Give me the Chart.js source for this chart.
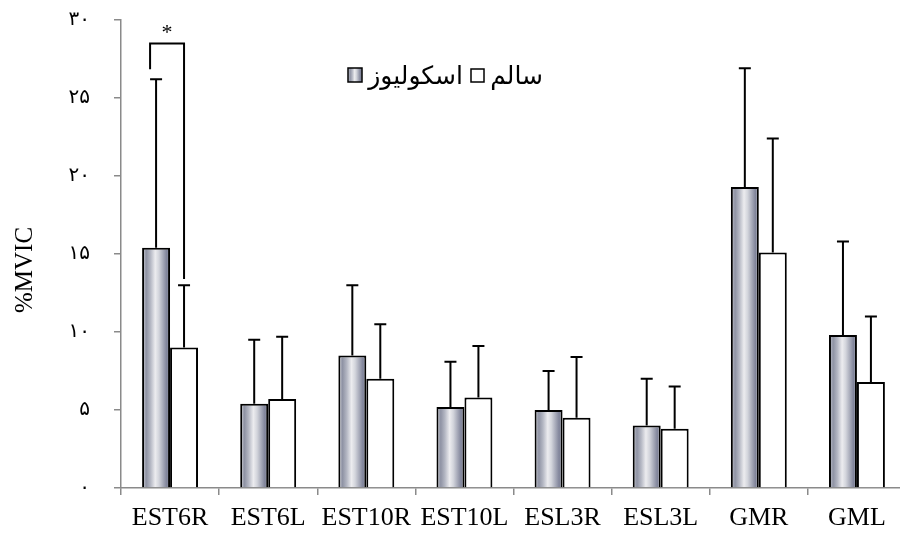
<!DOCTYPE html>
<html>
<head>
<meta charset="utf-8">
<script src="https://cdn.jsdelivr.net/npm/chart.js@4.4.1/dist/chart.umd.min.js"></script>
<style>
  html, body { margin: 0; padding: 0; background: #fff; overflow: hidden; }
  #wrap { width: 912px; height: 533px; position: relative; }
</style>
</head>
<body>
<div id="wrap"><canvas id="c"></canvas></div>
<script>
const categories = ['EST6R', 'EST6L', 'EST10R', 'EST10L', 'ESL3R', 'ESL3L', 'GMR', 'GML'];
const seriesNames = ['اسکولیوز', 'سالم'];
const scoliosisMean = [15.4, 5.4, 8.5, 5.2, 5.0, 4.0, 19.3, 9.8];
const scoliosisSD   = [10.8, 4.1, 4.5, 2.9, 2.5, 3.0, 7.6, 6.0];
const healthyMean   = [9.0, 5.7, 7.0, 5.8, 4.5, 3.8, 15.1, 6.8];
const healthySD     = [4.0, 4.0, 3.5, 3.3, 3.9, 2.7, 7.3, 4.2];
const yTickLabels = ['۰', '۵', '۱۰', '۱۵', '۲۰', '۲۵', '۳۰'];
const yAxisTitle = '%MVIC';
const sigIndex = 0;
const sigTop = 28.5;
const sigLeftEnd = 26.85;
const sigRightEnd = 13.4;
const sigLabel = '*';

const SERIF = '"Liberation Serif", "Times New Roman", serif';
const AR = '"Liberation Serif", "DejaVu Sans", serif';

function greyGradient(ctx, x0, x1) {
  const g = ctx.createLinearGradient(x0, 0, x1, 0);
  g.addColorStop(0.00, '#c9cbd3');
  g.addColorStop(0.15, '#8f93a4');
  g.addColorStop(0.30, '#b4b7c3');
  g.addColorStop(0.47, '#ececef');
  g.addColorStop(0.60, '#d3d5dc');
  g.addColorStop(0.88, '#80849a');
  g.addColorStop(1.00, '#9ca0b0');
  return g;
}

const gradientPlugin = {
  id: 'gradientFill',
  beforeDatasetsDraw(chart) {
    const meta = chart.getDatasetMeta(0);
    const ctx = chart.ctx;
    meta.data.forEach(el => {
      const p = el.getProps(['x', 'width'], true);
      el.options.backgroundColor = greyGradient(ctx, p.x - p.width / 2, p.x + p.width / 2);
    });
  }
};

const errorPlugin = {
  id: 'errorBars',
  afterDatasetsDraw(chart) {
    const ctx = chart.ctx;
    const y = chart.scales.y;
    const sds = [scoliosisSD, healthySD];
    const means = [scoliosisMean, healthyMean];
    ctx.save();
    ctx.strokeStyle = '#000';
    ctx.lineWidth = 2;
    for (let d = 0; d < 2; d++) {
      const meta = chart.getDatasetMeta(d);
      meta.data.forEach((el, i) => {
        const p = el.getProps(['x', 'y'], true);
        const yt = y.getPixelForValue(means[d][i] + sds[d][i]);
        ctx.beginPath();
        ctx.moveTo(p.x, p.y);
        ctx.lineTo(p.x, yt);
        ctx.moveTo(p.x - 6, yt);
        ctx.lineTo(p.x + 6, yt);
        ctx.stroke();
      });
    }
    const a = chart.getDatasetMeta(0).data[sigIndex].getProps(['x'], true);
    const b = chart.getDatasetMeta(1).data[sigIndex].getProps(['x'], true);
    const xl = a.x - 6, xr = b.x;
    const yTop = y.getPixelForValue(sigTop);
    ctx.beginPath();
    ctx.moveTo(xl, y.getPixelForValue(sigLeftEnd));
    ctx.lineTo(xl, yTop);
    ctx.lineTo(xr, yTop);
    ctx.lineTo(xr, y.getPixelForValue(sigRightEnd));
    ctx.stroke();
    ctx.fillStyle = '#000';
    ctx.font = '22px ' + SERIF;
    ctx.textAlign = 'center';
    ctx.textBaseline = 'middle';
    ctx.fillText(sigLabel, (xl + xr) / 2, yTop - 10);
    ctx.restore();
  }
};

const extrasPlugin = {
  id: 'extras',
  afterDraw(chart) {
    const ctx = chart.ctx;
    ctx.save();
    ctx.fillStyle = '#000';
    ctx.font = '25px ' + SERIF;
    ctx.textAlign = 'center';
    ctx.textBaseline = 'middle';
    ctx.translate(25, 270);
    ctx.rotate(-Math.PI / 2);
    ctx.fillText(yAxisTitle, 0, 0);
    ctx.restore();

    ctx.save();
    ctx.lineWidth = 1.5;
    ctx.strokeStyle = '#000';
    ctx.fillStyle = greyGradient(ctx, 348, 362);
    ctx.fillRect(348, 68, 14, 14);
    ctx.strokeRect(348, 68, 14, 14);
    ctx.fillStyle = '#fff';
    ctx.fillRect(471, 69, 13, 13);
    ctx.strokeRect(471, 69, 13, 13);
    ctx.fillStyle = '#000';
    ctx.font = '25px ' + AR;
    ctx.textBaseline = 'alphabetic';
    ctx.direction = 'rtl';
    ctx.textAlign = 'right';
    ctx.fillText(seriesNames[0], 463, 84);
    ctx.fillText(seriesNames[1], 543, 84);
    ctx.restore();
  }
};

new Chart(document.getElementById('c'), {
  type: 'bar',
  data: {
    labels: categories,
    datasets: [
      {
        label: seriesNames[0],
        data: scoliosisMean,
        backgroundColor: (c) => '#a8abb8',
        borderColor: '#000',
        borderWidth: 2,
        borderSkipped: 'start'
      },
      {
        label: seriesNames[1],
        data: healthyMean,
        backgroundColor: '#ffffff',
        borderColor: '#000',
        borderWidth: 2,
        borderSkipped: 'start'
      }
    ]
  },
  options: {
    responsive: true,
    maintainAspectRatio: false,
    animation: false,
    devicePixelRatio: 1,
    layout: { padding: { top: 20, right: 6, left: 0, bottom: 0 } },
    datasets: { bar: { categoryPercentage: 0.57, barPercentage: 1.0 } },
    plugins: {
      legend: { display: false },
      tooltip: { enabled: false }
    },
    scales: {
      x: {
        z: 1,
        offset: true,
        grid: { offset: true, drawOnChartArea: false, drawTicks: true, tickLength: 7, color: '#8a8a8a', lineWidth: 1.5 },
        border: { color: '#8a8a8a', width: 1.5 },
        ticks: { color: '#000', font: { family: SERIF, size: 26 }, padding: 8, maxRotation: 0, autoSkip: false },
        afterFit(s) { s.height = 45; }
      },
      y: {
        min: 0,
        max: 30,
        grid: { drawOnChartArea: false, drawTicks: true, tickLength: 7, color: '#8a8a8a', lineWidth: 1.5 },
        border: { color: '#8a8a8a', width: 1.5 },
        ticks: {
          stepSize: 5,
          color: '#000',
          font: { family: AR, size: 20 },
          padding: 24,
          callback: (v) => yTickLabels[Math.round(v / 5)]
        },
        afterFit(s) { s.width = 121; s.paddingTop = 0; s.paddingBottom = 0; }
      }
    }
  },
  plugins: [gradientPlugin, errorPlugin, extrasPlugin]
});
</script>
</body>
</html>
